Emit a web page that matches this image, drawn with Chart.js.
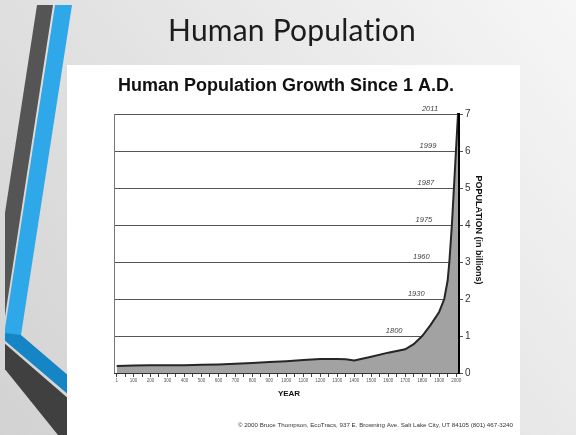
<!DOCTYPE html>
<html>
<head>
<meta charset="utf-8">
<title>Human Population</title>
<script src="https://cdn.jsdelivr.net/npm/chart.js@4"></script>
<style>
  html, body { margin: 0; padding: 0; background: #e6e6e6; }
  #wrap { position: relative; width: 576px; height: 435px; }
  canvas { display: block; }
</style>
</head>
<body>
<div id="wrap"><canvas id="c" width="576" height="435"></canvas></div>
<script>
// World population (billions) by year
const years      = [1, 100, 200, 300, 400, 500, 600, 700, 800, 900, 1000, 1100, 1200, 1300, 1350, 1400, 1500, 1600, 1700, 1750, 1800, 1850, 1900, 1930, 1950, 1960, 1975, 1987, 1999, 2011];
const population = [0.19, 0.2, 0.21, 0.21, 0.21, 0.22, 0.23, 0.25, 0.27, 0.3, 0.32, 0.35, 0.38, 0.38, 0.37, 0.34, 0.44, 0.55, 0.64, 0.78, 1.0, 1.3, 1.65, 2.0, 2.5, 3.0, 4.0, 5.0, 6.0, 7.0];

// Years at which each billion was reached
const milestoneYears = [1800, 1930, 1960, 1975, 1987, 1999, 2011];
const milestonePop   = [1, 2, 3, 4, 5, 6, 7];

// Labelled year ticks on the time axis (minor ticks sit halfway between)
const yearLabels = [1, 100, 200, 300, 400, 500, 600, 700, 800, 900, 1000, 1100, 1200, 1300, 1400, 1500, 1600, 1700, 1800, 1900, 2000];
const popTicks   = [0, 1, 2, 3, 4, 5, 6, 7];

const slideTitle = 'Human Population';
const chartTitle = 'Human Population Growth Since 1 A.D.';
const xTitle = 'YEAR';
const yTitle = 'POPULATION (in billions)';
const credit = '\u00A9 2000 Bruce Thompson, EcoTracs, 937 E. Browning Ave. Salt Lake City, UT 84105 (801) 467-3240';

const FONT = '"Liberation Sans", Arial, sans-serif';

function poly(ctx, pts, fill) {
  ctx.beginPath();
  ctx.moveTo(pts[0][0], pts[0][1]);
  for (let i = 1; i < pts.length; i++) ctx.lineTo(pts[i][0], pts[i][1]);
  ctx.closePath();
  ctx.fillStyle = fill;
  ctx.fill();
}

const slidePlugin = {
  id: 'slideDecor',
  beforeDraw(chart) {
    const ctx = chart.ctx;
    const W = chart.width, H = chart.height;
    ctx.save();
    // slide background
    const g = ctx.createLinearGradient(W, 0, 0, H);
    g.addColorStop(0, '#f6f6f6');
    g.addColorStop(1, '#d2d2d2');
    ctx.fillStyle = g;
    ctx.fillRect(0, 0, W, H);

    // diagonal accent stripes on the left
    ctx.save();
    ctx.beginPath();
    ctx.rect(5, 5, W, H);
    ctx.clip();
    poly(ctx, [[37, 5], [53, 5], [2, 336], [-14, 336]], '#555555');
    poly(ctx, [[55, 5], [72, 5], [21, 335], [4, 335]], '#2ea8e8');
    poly(ctx, [[4, 333], [21, 335], [70, 377], [70, 396], [4, 340]], '#1585c6');
    poly(ctx, [[4, 343], [70, 400], [70, 440], [62, 440], [4, 368]], '#404040');
    ctx.restore();

    // white picture panel
    ctx.fillStyle = '#ffffff';
    ctx.fillRect(67, 65, 453, 370);

    // slide heading
    ctx.fillStyle = '#1c1c1c';
    ctx.font = '30px Lato, "Open Sans", sans-serif';
    ctx.letterSpacing = '0.2px';
    ctx.textAlign = 'center';
    ctx.textBaseline = 'alphabetic';
    ctx.fillText(slideTitle, 292, 41);
    ctx.letterSpacing = '0px';

    // chart heading
    ctx.fillStyle = '#111111';
    ctx.font = 'bold 18px ' + FONT;
    ctx.textAlign = 'left';
    ctx.fillText(chartTitle, 118, 91);
    ctx.restore();
  },
  afterDraw(chart) {
    const ctx = chart.ctx;
    const a = chart.chartArea;
    const xs = chart.scales.x, ys = chart.scales.y;
    ctx.save();
    // left frame line
    ctx.strokeStyle = '#777777';
    ctx.lineWidth = 1;
    ctx.beginPath();
    ctx.moveTo(a.left + 0.5, a.top);
    ctx.lineTo(a.left + 0.5, a.bottom);
    ctx.stroke();

    // milestone years above each billion line
    ctx.fillStyle = '#444444';
    ctx.font = 'italic 7.5px ' + FONT;
    ctx.textAlign = 'center';
    ctx.textBaseline = 'bottom';
    milestoneYears.forEach((yr, i) => {
      const px = Math.min(xs.getPixelForValue(yr), a.right) - 28;
      const py = ys.getPixelForValue(milestonePop[i]) - 1;
      ctx.fillText(String(yr), px, py);
    });

    // axis titles
    ctx.fillStyle = '#111111';
    ctx.font = 'bold 8px ' + FONT;
    ctx.textAlign = 'center';
    ctx.textBaseline = 'middle';
    ctx.fillText(xTitle, (a.left + a.right) / 2 + 3, 394);

    ctx.save();
    ctx.translate(478, 230);
    ctx.rotate(Math.PI / 2);
    ctx.font = 'bold 9px ' + FONT;
    ctx.fillText(yTitle, 0, 0);
    ctx.restore();

    // credit line
    ctx.fillStyle = '#333333';
    ctx.font = '6.2px ' + FONT;
    ctx.textAlign = 'right';
    ctx.fillText(credit, 513, 425);
    ctx.restore();
  }
};

// tick values: labelled years plus half-century marks
const yearTickValues = [];
yearLabels.forEach((v, i) => {
  yearTickValues.push(v);
  if (i < yearLabels.length - 1) yearTickValues.push(i === 0 ? 50 : v + 50);
});

new Chart(document.getElementById('c'), {
  type: 'line',
  data: {
    datasets: [{
      data: years.map((yr, i) => ({ x: yr, y: population[i] })),
      borderColor: '#262626',
      borderWidth: 2,
      backgroundColor: '#a2a2a2',
      fill: 'origin',
      pointRadius: 0,
      tension: 0
    }]
  },
  options: {
    responsive: false,
    animation: false,
    events: [],
    layout: { padding: { left: 114, top: 114, right: 98, bottom: 50 } },
    plugins: { legend: { display: false }, tooltip: { enabled: false }, title: { display: false } },
    scales: {
      x: {
        type: 'linear',
        min: -15,
        max: 2011,
        afterBuildTicks: (s) => { s.ticks = yearTickValues.map(v => ({ value: v })); },
        afterFit: (s) => { s.height = 12; },
        grid: { drawOnChartArea: false, drawTicks: true, tickLength: 4, color: '#444444', lineWidth: 1 },
        border: { display: true, color: '#333333', width: 1 },
        ticks: {
          autoSkip: false,
          maxRotation: 0,
          padding: 1,
          color: '#555555',
          font: { family: FONT, size: 4.5 },
          callback: (v) => (yearLabels.includes(v) ? String(v) : '')
        }
      },
      y: {
        position: 'right',
        min: 0,
        max: 7,
        afterBuildTicks: (s) => { s.ticks = popTicks.map(v => ({ value: v })); },
        afterFit: (s) => { s.width = 20; },
        grid: { color: '#555555', lineWidth: 1, tickLength: 5, drawTicks: true },
        border: { display: true, color: '#000000', width: 3 },
        ticks: {
          padding: 2,
          color: '#333333',
          font: { family: FONT, size: 10 },
          callback: (v) => String(v)
        }
      }
    }
  },
  plugins: [slidePlugin]
});
</script>
</body>
</html>
